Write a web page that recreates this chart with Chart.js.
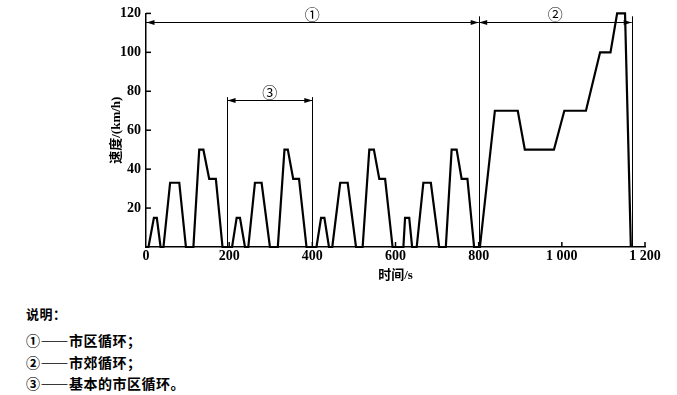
<!DOCTYPE html>
<html lang="zh">
<head>
<meta charset="utf-8">
<script src="https://cdn.jsdelivr.net/npm/chart.js@4.4.1/dist/chart.umd.min.js"></script>
<style>
    body { margin: 0; background: #fff; width: 677px; height: 395px; overflow: hidden; position: relative; }
    #caixa { position: absolute; left: 0; top: 0; width: 677px; height: 290px; }
    .nota { position: absolute; left: 26px; font: bold 14px "Noto Sans CJK SC"; line-height: 20px; color: #000; white-space: nowrap; letter-spacing: 0.5px; }
</style>
</head>
<body>
<div id="caixa"><canvas id="graficoCiclo"></canvas></div>
<div class="nota" style="top:304px; font-size:13px">说明：</div>
<div class="nota" style="top:330px">①——市区循环；</div>
<div class="nota" style="top:352px">②——市郊循环；</div>
<div class="nota" style="top:373px">③——基本的市区循环。</div>
<script>
// ======== DADOS ========
const tempos = [
    0, 6, 19, 26, 35, 42, 58, 80, 96, 114, 128, 138, 152, 168, 184,
    207, 218, 226, 238, 246, 262, 278, 298, 317, 333, 341, 354, 368, 386,
    410, 421, 429, 440, 448, 467, 485, 505, 521, 537, 548, 561, 575, 593,
    619, 623, 633, 640, 651, 667, 685, 705, 721, 735, 747, 759, 773, 789,
    803, 839, 894, 911, 981, 1006, 1058, 1092, 1117, 1133, 1152, 1166
];
const velocidades = [
    0, 0, 15, 15, 0, 0, 33, 33, 0, 0, 50, 50, 35, 35, 0,
    0, 15, 15, 0, 0, 33, 33, 0, 0, 50, 50, 35, 35, 0,
    0, 15, 15, 0, 0, 33, 33, 0, 0, 50, 50, 35, 35, 0,
    0, 15, 15, 0, 0, 33, 33, 0, 0, 50, 50, 35, 35, 0,
    0, 70, 70, 50, 50, 70, 70, 100, 100, 120, 120, 0
];

const xTicks = [0, 200, 400, 600, 800, 1000, 1200];
const xRotulos = ["0", "200", "400", "600", "800", "1 000", "1 200"];
const yTicks = [0, 20, 40, 60, 80, 100, 120];
const yRotulos = ["", "20", "40", "60", "80", "100", "120"];

// faixas com setas: ① ② ③
const faixaRotulos = ["①", "②", "③"];
const faixaInicio = [0, 800, 195];
const faixaFim = [800, 1168, 400];
const faixaNivel = [115.4, 115.4, 75.6];

// linhas verticais de limite
const linhasX = [195, 400, 800, 1168];
const linhasTopo = [77, 77, 118.5, 118.5];

const fonteNum = { family: "'Liberation Serif', 'Noto Sans CJK SC'", weight: "bold", size: 14 };

// ======== PLUGIN DAS ANOTAÇÕES ========
function seta(ctx, px, py, dir) {
    ctx.beginPath();
    ctx.moveTo(px, py);
    ctx.lineTo(px - dir * 8, py - 2.5);
    ctx.lineTo(px - dir * 8, py + 2.5);
    ctx.closePath();
    ctx.fill();
}

const anotacoes = {
    id: "anotacoes",
    afterDraw(chart) {
        const { ctx, scales: { x, y } } = chart;
        const base = y.getPixelForValue(0);
        const esq = x.getPixelForValue(0);
        ctx.save();
        ctx.strokeStyle = "#000";
        ctx.fillStyle = "#000";

        // marcas internas dos eixos
        ctx.lineWidth = 1.5;
        xTicks.slice(1).forEach(v => {
            const px = x.getPixelForValue(v);
            ctx.beginPath(); ctx.moveTo(px, base); ctx.lineTo(px, base - 5); ctx.stroke();
        });
        yTicks.slice(1).forEach(v => {
            const py = y.getPixelForValue(v);
            ctx.beginPath(); ctx.moveTo(esq, py); ctx.lineTo(esq + 5, py); ctx.stroke();
        });

        // linhas verticais
        ctx.lineWidth = 1;
        linhasX.forEach((v, i) => {
            const px = Math.round(x.getPixelForValue(v)) + 0.5;
            ctx.beginPath();
            ctx.moveTo(px, y.getPixelForValue(linhasTopo[i]));
            ctx.lineTo(px, base);
            ctx.stroke();
        });

        // faixas com setas e rótulos
        ctx.font = "15px 'Noto Sans CJK SC'";
        ctx.textAlign = "center";
        ctx.textBaseline = "middle";
        faixaRotulos.forEach((r, i) => {
            const x1 = x.getPixelForValue(faixaInicio[i]);
            const x2 = x.getPixelForValue(faixaFim[i]);
            const py = Math.round(y.getPixelForValue(faixaNivel[i])) + 0.5;
            ctx.beginPath(); ctx.moveTo(x1, py); ctx.lineTo(x2, py); ctx.stroke();
            seta(ctx, x1 + 0.5, py, -1);
            seta(ctx, x2, py, 1);
            ctx.fillText(r, (x1 + x2) / 2, py - 8);
        });
        ctx.restore();
    }
};

// ======== GRÁFICO ========
const ctx = document.getElementById("graficoCiclo").getContext("2d");
new Chart(ctx, {
    type: "line",
    data: {
        datasets: [{
            data: tempos.map((t, i) => ({ x: t, y: velocidades[i] })),
            borderColor: "#000",
            borderWidth: 2.2,
            pointRadius: 0,
            tension: 0,
            fill: false,
            clip: false
        }]
    },
    options: {
        responsive: true,
        maintainAspectRatio: false,
        animation: false,
        layout: { padding: { top: 12, right: 32, left: 0, bottom: 0 } },
        plugins: {
            legend: { display: false },
            tooltip: { enabled: false }
        },
        scales: {
            x: {
                type: "linear",
                min: 0,
                max: 1200,
                afterBuildTicks: s => { s.ticks = xTicks.map(v => ({ value: v })); },
                afterFit: s => { s.height = 43; },
                ticks: {
                    color: "#000",
                    font: fonteNum,
                    padding: 1,
                    maxRotation: 0,
                    autoSkip: false,
                    callback: (v, i) => xRotulos[i]
                },
                grid: { drawOnChartArea: false, drawTicks: false },
                border: { color: "#000", width: 1.5 },
                title: {
                    display: true,
                    text: "时间/s",
                    color: "#000",
                    font: { ...fonteNum, size: 13 },
                    padding: { top: 0, bottom: 7 }
                }
            },
            y: {
                min: 0,
                max: 120,
                afterBuildTicks: s => { s.ticks = yTicks.map(v => ({ value: v })); },
                afterFit: s => { s.width = 146; },
                ticks: {
                    color: "#000",
                    font: fonteNum,
                    padding: 5,
                    callback: (v, i) => yRotulos[i]
                },
                grid: { drawOnChartArea: false, drawTicks: false },
                border: { color: "#000", width: 1.5 },
                title: {
                    display: true,
                    text: "速度/(km/h)",
                    color: "#000",
                    font: { ...fonteNum, size: 13 },
                    padding: { top: 109, bottom: 0 }
                }
            }
        }
    },
    plugins: [anotacoes]
});
</script>
</body>
</html>
